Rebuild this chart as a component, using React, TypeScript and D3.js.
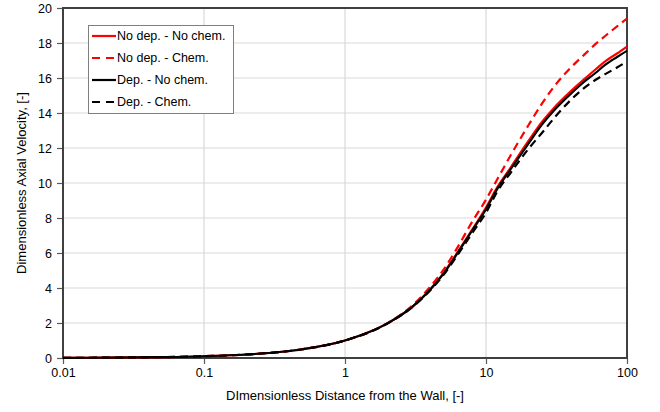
import React, { useEffect, useRef } from "react";
import * as d3 from "d3";

// distance from the wall (y+)
const xVals = [0.01, 0.02, 0.05, 0.1, 0.2, 0.5, 1, 2, 3, 4, 5, 6, 8, 10, 12, 15, 20, 25, 30, 40, 50, 60, 70, 85, 100];

const noDepNoChem = [0.01, 0.02, 0.05, 0.1, 0.2, 0.5, 1.0, 1.98, 2.92, 3.9, 4.85, 5.8, 7.35, 8.6, 9.75, 10.9, 12.4, 13.5, 14.25, 15.25, 15.95, 16.5, 16.95, 17.4, 17.8];
const noDepChem = [0.01, 0.02, 0.05, 0.1, 0.2, 0.5, 1.0, 1.99, 3.0, 4.05, 5.05, 6.05, 7.8, 9.05, 10.2, 11.6, 13.3, 14.55, 15.45, 16.6, 17.35, 17.95, 18.4, 18.95, 19.4];
const depNoChem = [0.01, 0.02, 0.05, 0.1, 0.2, 0.5, 1.0, 1.98, 2.92, 3.88, 4.82, 5.75, 7.3, 8.5, 9.65, 10.8, 12.25, 13.35, 14.1, 15.1, 15.8, 16.3, 16.75, 17.2, 17.55];
const depChem = [0.01, 0.02, 0.05, 0.1, 0.2, 0.5, 1.0, 1.97, 2.9, 3.85, 4.75, 5.65, 7.15, 8.3, 9.5, 10.6, 11.95, 12.87, 13.65, 14.75, 15.45, 15.9, 16.22, 16.6, 16.95];

const seriesNames = ["No dep. - No chem.", "No dep. - Chem.", "Dep. - No chem.", "Dep. - Chem."];
const seriesColors = ["#ff0000", "#ff0000", "#000000", "#000000"];
const seriesDashed = [false, true, false, true];

const xTicks = [0.01, 0.1, 1, 10, 100];
const xTickLabels = ["0.01", "0.1", "1", "10", "100"];
const yTicks = [0, 2, 4, 6, 8, 10, 12, 14, 16, 18, 20];

const App = () => {
  const svgRef = useRef<SVGSVGElement>(null);

  useEffect(() => {
    const w = 660;
    const h = 412;
    const m = { left: 63, right: 33, top: 8, bottom: 54 };
    const font = "'Liberation Sans', Arial, sans-serif";

    const svg = d3.select(svgRef.current).attr("width", w).attr("height", h);
    svg.selectAll("*").remove();

    const x = d3.scaleLog().domain([0.01, 100]).range([m.left, w - m.right]);
    const y = d3.scaleLinear().domain([0, 20]).range([h - m.bottom, m.top]);

    svg.append("rect").attr("width", w).attr("height", h).attr("fill", "#fff");

    // gridlines
    svg
      .append("g")
      .selectAll("line")
      .data(yTicks.slice(1, -1))
      .join("line")
      .attr("x1", m.left)
      .attr("x2", w - m.right)
      .attr("y1", (d) => y(d))
      .attr("y2", (d) => y(d))
      .attr("stroke", "#d9d9d9")
      .attr("stroke-width", 1.2);
    svg
      .append("g")
      .selectAll("line")
      .data(xTicks.slice(1, -1))
      .join("line")
      .attr("x1", (d) => x(d))
      .attr("x2", (d) => x(d))
      .attr("y1", m.top)
      .attr("y2", h - m.bottom)
      .attr("stroke", "#d9d9d9")
      .attr("stroke-width", 1.2);

    // axes
    const yAxis = d3.axisLeft(y).tickValues(yTicks).tickSize(6).tickFormat((d) => String(d));
    const xAxis = d3
      .axisBottom(x)
      .tickValues(xTicks)
      .tickSize(6)
      .tickFormat((d, i) => xTickLabels[i]);
    const gy = svg.append("g").attr("transform", `translate(${m.left},0)`).call(yAxis);
    const gx = svg.append("g").attr("transform", `translate(0,${h - m.bottom})`).call(xAxis);
    [gx, gy].forEach((g) => {
      g.select(".domain").remove();
      g.selectAll(".tick line").attr("stroke", "#595959").attr("stroke-width", 1.2);
      g.selectAll(".tick text").attr("font-family", font).attr("font-size", 12.5).attr("fill", "#000");
    });
    gy.selectAll(".tick text").attr("x", -11);
    gx.selectAll(".tick text").attr("y", 10);

    // plot border
    svg
      .append("rect")
      .attr("x", m.left)
      .attr("y", m.top)
      .attr("width", w - m.left - m.right)
      .attr("height", h - m.top - m.bottom)
      .attr("fill", "none")
      .attr("stroke", "#404040")
      .attr("stroke-width", 2);

    // curves
    const allSeries = [noDepNoChem, noDepChem, depNoChem, depChem];
    const line = d3
      .line<number>()
      .x((d, i) => x(xVals[i]))
      .y((d) => y(d))
      .curve(d3.curveMonotoneX);
    svg
      .append("g")
      .selectAll("path")
      .data(allSeries)
      .join("path")
      .attr("d", (d) => line(d))
      .attr("fill", "none")
      .attr("stroke", (d, i) => seriesColors[i])
      .attr("stroke-width", 2.2)
      .attr("stroke-dasharray", (d, i) => (seriesDashed[i] ? "8,5" : null));

    // legend
    const lg = svg.append("g");
    lg.append("rect")
      .attr("x", 88.5)
      .attr("y", 25.5)
      .attr("width", 145)
      .attr("height", 88)
      .attr("fill", "#fff")
      .attr("stroke", "#7f7f7f")
      .attr("stroke-width", 1);
    const rows = lg
      .selectAll("g.item")
      .data(seriesNames)
      .join("g")
      .attr("class", "item")
      .attr("transform", (d, i) => `translate(0,${36 + i * 22})`);
    rows
      .append("line")
      .attr("x1", 92)
      .attr("x2", 116)
      .attr("stroke", (d, i) => seriesColors[i])
      .attr("stroke-width", 2.2)
      .attr("stroke-dasharray", (d, i) => (seriesDashed[i] ? "8,6" : null));
    rows
      .append("text")
      .attr("x", 117)
      .attr("dy", "0.35em")
      .attr("font-family", font)
      .attr("font-size", 12.5)
      .text((d) => d);

    // axis titles
    svg
      .append("text")
      .attr("x", (m.left + w - m.right) / 2)
      .attr("y", 400)
      .attr("text-anchor", "middle")
      .attr("font-family", font)
      .attr("font-size", 13)
      .text("DImensionless Distance from the Wall, [-]");
    svg
      .append("text")
      .attr("transform", `translate(26,${(m.top + h - m.bottom) / 2}) rotate(-90)`)
      .attr("text-anchor", "middle")
      .attr("font-family", font)
      .attr("font-size", 13)
      .text("Dimensionless Axial Velocity, [-]");
  }, []);

  return (
    <div style={{ position: "absolute", left: 0, top: 0 }}>
      <svg ref={svgRef} style={{ display: "block" }}></svg>
    </div>
  );
};

export default App;
